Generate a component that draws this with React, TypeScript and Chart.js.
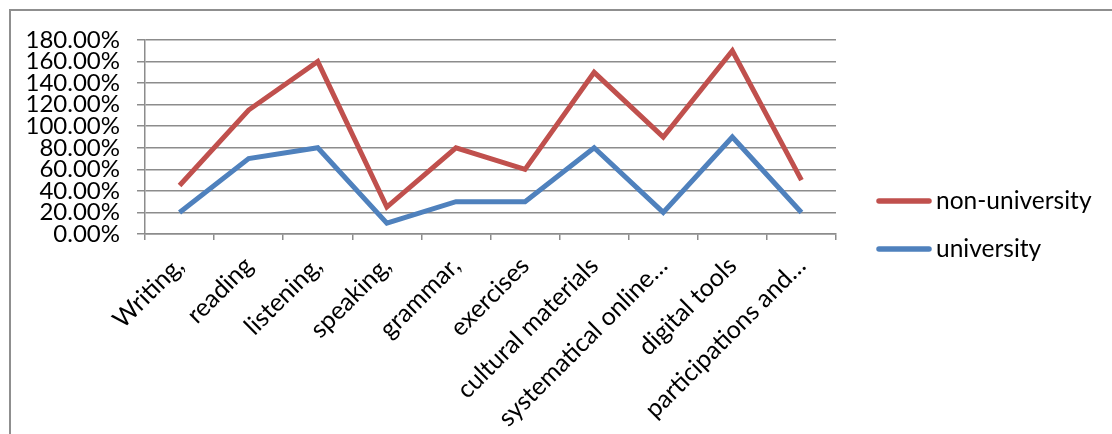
import React, { useEffect, useRef } from "react";
import { Chart, registerables } from "chart.js";

Chart.register(...registerables);

const categories = [
  "Writing,",
  "reading",
  "listening,",
  "speaking,",
  "grammar,",
  "exercises",
  "cultural materials",
  "systematical online…",
  "digital tools",
  "participations and…",
];
const nonUniversity = [45, 115, 160, 25, 80, 60, 150, 90, 170, 50];
const university = [20, 70, 80, 10, 30, 30, 80, 20, 90, 20];
const seriesNames = ["non-university", "university"];
const yMin = 0;
const yMax = 180;
const yStep = 20;

const FONT = "Lato, Carlito, Calibri, sans-serif";

const legendPlugin = {
  id: "customLegend",
  afterDraw(chart: any) {
    const ctx = chart.ctx;
    const ds = chart.data.datasets;
    const x0 = 876;
    const x1 = 932;
    const ys = [201, 249];
    ctx.save();
    ds.forEach((d: any, i: number) => {
      const y = ys[i];
      ctx.strokeStyle = d.borderColor;
      ctx.lineWidth = 5.5;
      ctx.lineCap = "round";
      ctx.beginPath();
      ctx.moveTo(x0 + 3, y);
      ctx.lineTo(x1 - 3, y);
      ctx.stroke();
      ctx.fillStyle = "#000";
      ctx.font = `24.5px ${FONT}`;
      ctx.textBaseline = "middle";
      ctx.textAlign = "left";
      ctx.fillText(d.label, 936, y);
    });
    ctx.restore();
  },
};

export default function App() {
  const ref = useRef<HTMLCanvasElement | null>(null);
  useEffect(() => {
    if (!ref.current) return;
    const chart = new Chart(ref.current, {
      type: "line",
      data: {
        labels: categories,
        datasets: [
          {
            label: seriesNames[0],
            data: nonUniversity,
            borderColor: "#C0504D",
            backgroundColor: "#C0504D",
            borderWidth: 5,
            pointRadius: 0,
            tension: 0,
          },
          {
            label: seriesNames[1],
            data: university,
            borderColor: "#4F81BD",
            backgroundColor: "#4F81BD",
            borderWidth: 5,
            pointRadius: 0,
            tension: 0,
          },
        ],
      },
      options: {
        animation: false,
        responsive: false,
        events: [],
        layout: { padding: { left: 10, top: 40, right: 276, bottom: 0 } },
        plugins: {
          legend: { display: false },
          tooltip: { enabled: false },
        },
        scales: {
          x: {
            type: "category",
            offset: true,
            grid: {
              offset: true,
              drawOnChartArea: false,
              drawTicks: true,
              tickLength: 6,
              color: "#8c8c8c",
              lineWidth: 1.5,
            },
            border: { color: "#8c8c8c", width: 1.5 },
            ticks: {
              autoSkip: false,
              maxRotation: 45,
              minRotation: 45,
              padding: 11,
              color: "#000",
              font: { family: FONT, size: 25 },
            },
            afterFit(scale: any) {
              scale.height = 200;
            },
          },
          y: {
            min: yMin,
            max: yMax,
            grid: {
              color: "#8c8c8c",
              lineWidth: 1.5,
              tickLength: 8,
            },
            border: { color: "#8c8c8c", width: 1.5 },
            ticks: {
              stepSize: yStep,
              autoSkip: false,
              padding: 17,
              color: "#000",
              font: { family: FONT, size: 24 },
              callback: (v: any) => Number(v).toFixed(2) + "%",
            },
            afterFit(scale: any) {
              scale.width = 135;
            },
          },
        },
      },
      plugins: [legendPlugin],
    });
    return () => chart.destroy();
  }, []);

  return (
    <div
      style={{
        position: "fixed",
        left: 0,
        top: 0,
        width: 1112,
        height: 434,
        overflow: "hidden",
        background: "#fff",
      }}
    >
      <div
        style={{
          position: "absolute",
          left: 9,
          top: 9,
          width: 1200,
          height: 600,
          borderTop: "2px solid #8f8f8f",
          borderLeft: "2px solid #8f8f8f",
        }}
      />
      <canvas
        ref={ref}
        width={1112}
        height={434}
        style={{ position: "absolute", left: 0, top: 0, width: 1112, height: 434 }}
      />
    </div>
  );
}
